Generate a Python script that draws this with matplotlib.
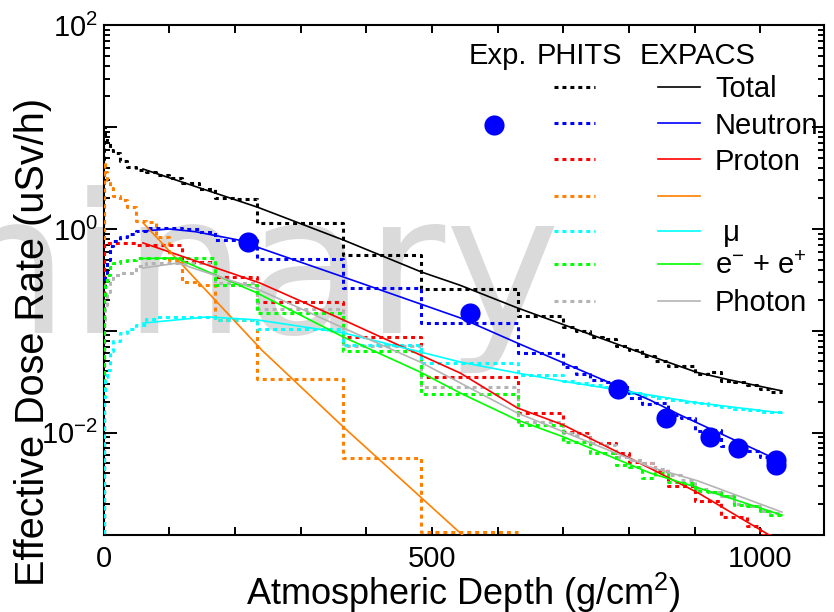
import numpy as np
import matplotlib
matplotlib.use('Agg')
import matplotlib.pyplot as plt
from matplotlib.lines import Line2D
from matplotlib.ticker import LogLocator, MultipleLocator, FuncFormatter, NullFormatter, FixedLocator

plt.rcParams['font.family'] = ['Liberation Sans', 'DejaVu Sans']
plt.rcParams['mathtext.fontset'] = 'custom'
plt.rcParams['mathtext.rm'] = 'Liberation Sans'
plt.rcParams['mathtext.it'] = 'Liberation Sans:italic'
plt.rcParams['mathtext.bf'] = 'Liberation Sans:bold'

# ---------------- data ----------------
# PHITS histogram bin edges (atmospheric depth, g/cm2)
phits_edges = [0, 2, 5, 10, 15, 25, 35, 50, 65, 80, 100, 120, 145, 170, 200, 234,
               365, 483, 631, 700, 720, 740, 760, 780, 800, 820, 840, 860, 880, 900,
               920, 940, 960, 980, 1000, 1015, 1033]

phits_total = [10.0, 7.9, 7.1, 6.0, 5.6, 4.7, 4.1, 3.8, 3.6, 3.4, 3.2, 2.8, 2.45, 2.0, 1.95,
               1.15, 0.556, 0.257, 0.14,
               0.11, 0.1, 0.087, 0.083, 0.071, 0.065, 0.056, 0.05, 0.045, 0.0447, 0.038,
               0.039, 0.032, 0.0316, 0.0295, 0.027, 0.025]
phits_neutron = [0.224, 0.355, 0.5, 0.68, 0.76, 0.83, 0.89, 0.955, 1.02, 1.02, 1.02, 1.0, 0.93, 0.78, 0.78,
                 0.507, 0.263, 0.12, 0.0607,
                 0.0442, 0.038, 0.0331, 0.0316, 0.0282, 0.0219, 0.019, 0.0195, 0.0148, 0.0138, 0.0105,
                 0.0107, 0.0074, 0.0069, 0.0066, 0.0058, 0.0054]
phits_proton = [0.73, 0.73, 0.73, 0.73, 0.73, 0.73, 0.73, 0.70, 0.70, 0.70, 0.70, 0.47, 0.47, 0.34, 0.34,
                0.19, 0.087, 0.0355, 0.0155,
                0.0102, 0.01, 0.0079, 0.0079, 0.0063, 0.0052, 0.005, 0.0042, 0.003, 0.003, 0.00214,
                0.00214, 0.0015, 0.00148, 0.0012, 0.001, 0.00089]
phits_pion = [4.5, 3.6, 3.0, 2.5, 2.1, 1.93, 1.64, 1.2, 1.17, 0.83, 0.5, 0.3, 0.28, 0.128, 0.128,
              0.034, 0.0056, 0.00105]
phits_muon = [0.0224, 0.0355, 0.0417, 0.063, 0.079, 0.095, 0.105, 0.115, 0.132, 0.138, 0.138, 0.138, 0.138,
              0.129, 0.129,
              0.105, 0.072, 0.048, 0.037,
              0.0324, 0.031, 0.0295, 0.0282, 0.0263, 0.0245, 0.0229, 0.0219, 0.0209, 0.02, 0.0195,
              0.0186, 0.0178, 0.017, 0.0166, 0.0158, 0.0158]
phits_elec = [0.21, 0.28, 0.355, 0.42, 0.46, 0.48, 0.5, 0.52, 0.52, 0.52, 0.52, 0.52, 0.52, 0.28, 0.28,
              0.15, 0.063, 0.024, 0.0119,
              0.0081, 0.0081, 0.0063, 0.0063, 0.0048, 0.0046, 0.0036, 0.004, 0.0033, 0.0032, 0.0027,
              0.0026, 0.0024, 0.00195, 0.0019, 0.0017, 0.00155]
phits_photon = [0.129, 0.178, 0.24, 0.32, 0.355, 0.37, 0.37, 0.43, 0.46, 0.46, 0.46, 0.46, 0.46, 0.295, 0.295,
                0.164, 0.0708, 0.0282, 0.0127,
                0.01, 0.0095, 0.0079, 0.0076, 0.0058, 0.0054, 0.005, 0.0044, 0.0038, 0.0034, 0.0028,
                0.0026, 0.0024, 0.002, 0.0019, 0.0017, 0.00162]

# EXPACS curves
exp_total_x = [60, 234, 365, 484, 543, 630, 806, 904, 954, 1033]
exp_total_y = [3.88, 1.64, 0.78, 0.378, 0.28, 0.168, 0.065, 0.039, 0.0329, 0.0257]
exp_neutron_x = [60, 100, 140, 205, 238, 365, 543, 630, 832, 878, 1004, 1033]
exp_neutron_y = [0.955, 1.0, 0.94, 0.78, 0.65, 0.338, 0.134, 0.0759, 0.0209, 0.0149, 0.0063, 0.0051]
exp_proton_x = [60, 238, 365, 482, 543, 630, 700, 832, 905, 1018, 1033]
exp_proton_y = [0.73, 0.295, 0.128, 0.058, 0.0385, 0.0175, 0.0119, 0.00447, 0.00257, 0.00095, 0.00085]
exp_pion_x = [60, 241, 365, 543, 560]
exp_pion_y = [1.15, 0.0646, 0.01138, 0.001035, 0.00083]
exp_muon_x = [60, 158, 234, 365, 482, 543, 630, 706, 832, 905, 1033]
exp_muon_y = [0.119, 0.137, 0.128, 0.0955, 0.062, 0.0494, 0.0385, 0.0315, 0.0234, 0.0196, 0.0156]
exp_elec_x = [60, 110, 234, 365, 482, 543, 630, 700, 832, 905, 1033]
exp_elec_y = [0.513, 0.519, 0.235, 0.087, 0.0394, 0.0245, 0.0133, 0.0091, 0.00402, 0.00288, 0.00155]
exp_photon_x = [60, 113, 238, 365, 482, 543, 630, 832, 905, 1033]
exp_photon_y = [0.414, 0.463, 0.251, 0.1067, 0.0494, 0.0308, 0.0156, 0.0046, 0.00336, 0.00166]

# measurement (neutron)
meas_x = [220, 558, 784, 856, 924, 966, 1024, 1024]
meas_y = [0.75, 0.151, 0.0267, 0.0138, 0.0091, 0.0071, 0.0054, 0.0048]

labels = ['Total', 'Neutron', 'Proton', '', ' \u03bc', 'e$^{-}$ + e$^{+}$', 'Photon']
colors = ['#000000', '#0000ff', '#ff0000', '#ff8000', '#00ffff', '#00ff00', '#b4b4b4']

# ---------------- figure ----------------
W, H = 834, 612
fig = plt.figure(figsize=(W / 100, H / 100), dpi=100)
L, R, T, B = 103.6, 824, 25.3, 534.5
ax = fig.add_axes([L / W, 1 - B / H, (R - L) / W, (B - T) / H])
ax.set_facecolor('none')

def fx(px):
    return px / W

def fy(py):
    return 1 - py / H

# watermark (behind the data)
ax.text(fx(-537), fy(333), 'Preliminary', fontsize=140, color='#dadada', family='DejaVu Sans',
        ha='left', va='baseline', transform=fig.transFigure, clip_on=False, zorder=1)

DOT = (0, (1.3, 1.3))
phits_series = [phits_total, phits_neutron, phits_proton, phits_pion, phits_muon, phits_elec, phits_photon]
exp_series = [(exp_total_x, exp_total_y), (exp_neutron_x, exp_neutron_y), (exp_proton_x, exp_proton_y),
              (exp_pion_x, exp_pion_y), (exp_muon_x, exp_muon_y), (exp_elec_x, exp_elec_y),
              (exp_photon_x, exp_photon_y)]

# drawing order of the histograms (muon last so it shows along the left axis)
order = [0, 3, 2, 1, 6, 5, 4]
for i in order:
    vals, col = phits_series[i], colors[i]
    e = phits_edges[:len(vals) + 1]
    xs = [e[0]] + list(e)
    ys = [1e-5] + list(vals) + [vals[-1]]
    ax.plot(xs, ys, drawstyle='steps-post', color=col, lw=2.2, linestyle=DOT, zorder=2.6)

for (xv, yv), col in zip(exp_series, colors):
    ax.plot(xv, yv, color=col, lw=1.2, zorder=3)

ax.plot(meas_x, meas_y, 'o', color='#0000ff', ms=14.5, mec='none', zorder=4)

ax.set_yscale('log')
ax.set_xlim(0, 1097)
ax.set_ylim(1e-3, 1e2)

ax.xaxis.set_major_locator(FixedLocator([0, 500, 1000]))
ax.xaxis.set_minor_locator(MultipleLocator(100))
ax.yaxis.set_major_locator(LogLocator(base=10, numticks=20))
ax.yaxis.set_minor_locator(LogLocator(base=10, subs=np.arange(2, 10), numticks=20))

def yfmt(v, pos):
    e = int(round(np.log10(v)))
    if e in (2, 0):
        return r'$10^{%d}$' % e
    if e == -2:
        return '$10^{\u22122}$'
    return ''

ax.yaxis.set_major_formatter(FuncFormatter(yfmt))
ax.yaxis.set_minor_formatter(NullFormatter())

ax.tick_params(axis='both', which='both', direction='in', top=True, right=True, width=1.4,
               labelsize=21, pad=4)
ax.tick_params(axis='x', which='both', length=6, pad=7.5)
ax.tick_params(axis='y', which='major', length=9)
ax.tick_params(axis='y', which='minor', length=4.5)
for s in ax.spines.values():
    s.set_linewidth(1.5)

ax.set_xlabel('Atmospheric Depth (g/cm$^{2}$)', fontsize=26, labelpad=-1.5)
ax.set_ylabel('Effective Dose Rate (uSv/h)', fontsize=28.5)
ax.yaxis.set_label_coords(-0.0716, 0.378)

# ---------------- legend (drawn as text/lines) ----------------
fig.text(fx(468.5), fy(63.6), 'Exp.', fontsize=21, ha='left', va='baseline')
fig.text(fx(537), fy(63.6), 'PHITS', fontsize=21, ha='left', va='baseline')
fig.text(fx(640), fy(63.6), 'EXPACS', fontsize=21, ha='left', va='baseline')
row_y = [87, 123.4, 159.4, 195.7, 230.6, 264.2, 300.5]
for ry, lab, col in zip(row_y, labels, colors):
    fig.add_artist(Line2D([fx(554), fx(595)], [fy(ry), fy(ry)], color=col, lw=2.2, linestyle=DOT))
    fig.add_artist(Line2D([fx(658), fx(700)], [fy(ry), fy(ry)], color=col, lw=1.2))
    fig.text(fx(715), fy(ry + 10.3), lab, fontsize=21, ha='left', va='baseline')
fig.add_artist(Line2D([fx(493.7)], [fy(124.8)], marker='o', color='#0000ff', ms=14.5, mec='none', lw=0))

fig.savefig('out.png', dpi=100)
